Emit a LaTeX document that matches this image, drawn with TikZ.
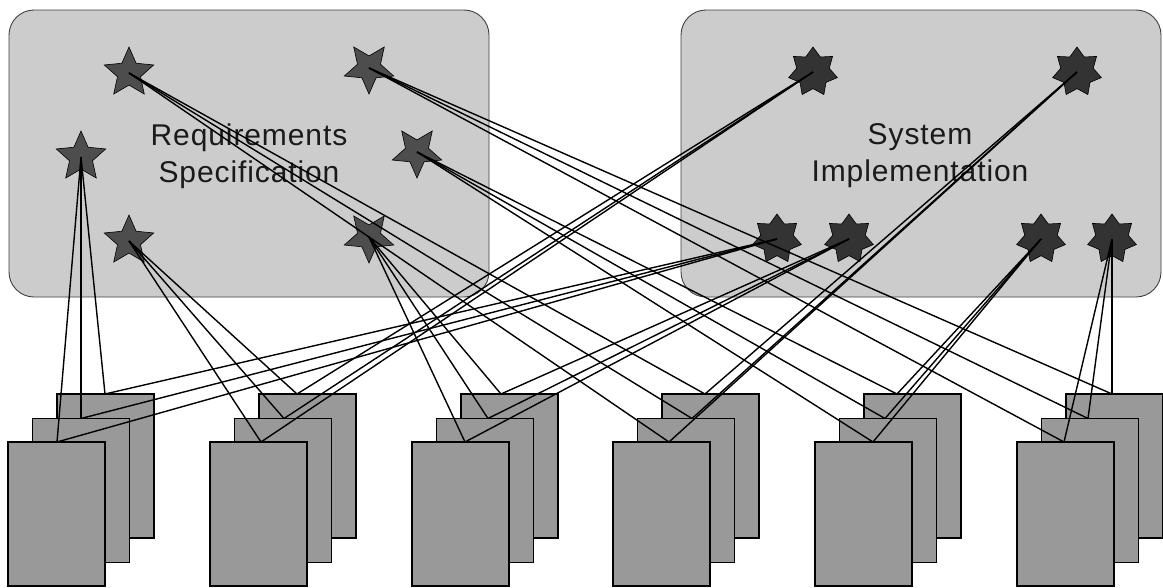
\documentclass[tikz,border=0pt]{standalone}
\usepackage{fontspec}
\setmainfont{Liberation Sans}
\usetikzlibrary{shapes.geometric}

\definecolor{panelfill}{HTML}{CCCCCC}
\definecolor{panelline}{HTML}{404040}
\definecolor{pagefill}{HTML}{999999}
\definecolor{reqstarfill}{HTML}{4D4D4D}
\definecolor{implstarfill}{HTML}{333333}
\definecolor{labeltext}{HTML}{1A1A1A}

\begin{document}
\begin{tikzpicture}[x=1pt, y=-1pt,
  panel/.style={draw=panelline, fill=panelfill, line width=0.9pt,
    rounded corners=25pt, minimum width=480pt, minimum height=287pt,
    inner sep=0pt, outer sep=0pt, anchor=north west},
  paneltext/.style={text=labeltext, align=center,
    font=\fontsize{30}{37}\selectfont\addfontfeature{LetterSpace=3}},
  reqstar/.style={star, star points=5, star point ratio=2.15,
    minimum size=52pt, inner sep=0pt, fill=reqstarfill, draw=black,
    line width=0.6pt},
  flipped/.style={shape border rotate=180},
  implstar/.style={star, star points=7, star point ratio=1.5,
    minimum size=50pt, inner sep=0pt, fill=implstarfill, draw=black,
    line width=0.6pt},
  page/.style={draw=black, fill=pagefill, line width=1.5pt,
    minimum width=97pt, minimum height=144pt, inner sep=0pt,
    outer sep=0pt, anchor=north west},
  link/.style={draw=black, line width=1.4pt}]

\useasboundingbox (0,0) rectangle (1163,587);

% the two panels and their titles
\node[panel] (req) at (9,10) {};
\node[panel] (impl) at (681,10) {};
\node[paneltext] (reqlabel) at (249,156) {Requirements\\Specification};
\node[paneltext] (impllabel) at (920,156) {System\\Implementation};

% requirement items (five-pointed stars)
\node[reqstar] (A) at (129,73) {};
\node[reqstar, flipped] (B) at (369,68) {};
\node[reqstar] (C) at (81,157) {};
\node[reqstar, flipped] (D) at (417,152) {};
\node[reqstar] (E) at (129,241) {};
\node[reqstar, flipped] (F) at (369,237) {};

% implementation items (seven-pointed stars)
\node[implstar] (G) at (813,72) {};
\node[implstar] (H) at (1077,72) {};
\node[implstar] (I) at (777,239) {};
\node[implstar] (J) at (849,239) {};
\node[implstar] (K) at (1041,239) {};
\node[implstar] (L) at (1112,239) {};

% stacks of documents: back, middle and front page, each with its tie point
\foreach \k/\x/\of/\om/\ob in {1/8/0.5/0/-0.5, 2/210/2.5/1/-10.5,
    3/412/4.5/3/-8.5, 4/613/7.5/6/-5.5, 5/815/9.5/-3/-15.5,
    6/1017/-1.5/-2/-2.5} {
  \node[page] (s\k-b) at (\x+49,394) {};
  \node[page] (s\k-m) at (\x+24.5,418.5) {};
  \node[page] (s\k-f) at (\x,442) {};
  \coordinate (s\k-b-top) at ([xshift=\ob pt]s\k-b.north);
  \coordinate (s\k-m-top) at ([xshift=\om pt]s\k-m.north);
  \coordinate (s\k-f-top) at ([xshift=\of pt]s\k-f.north);
}

% trace links: every page ties to one requirement and one implementation item
\foreach \k/\req/\imp in {1/C/I, 2/E/G, 3/F/J, 4/A/H, 5/D/K, 6/B/L} {
  \foreach \p in {b,m,f} {
    \draw[link] (\req.center) -- (s\k-\p-top);
    \draw[link] (\imp.center) -- (s\k-\p-top);
  }
}
\end{tikzpicture}
\end{document}
